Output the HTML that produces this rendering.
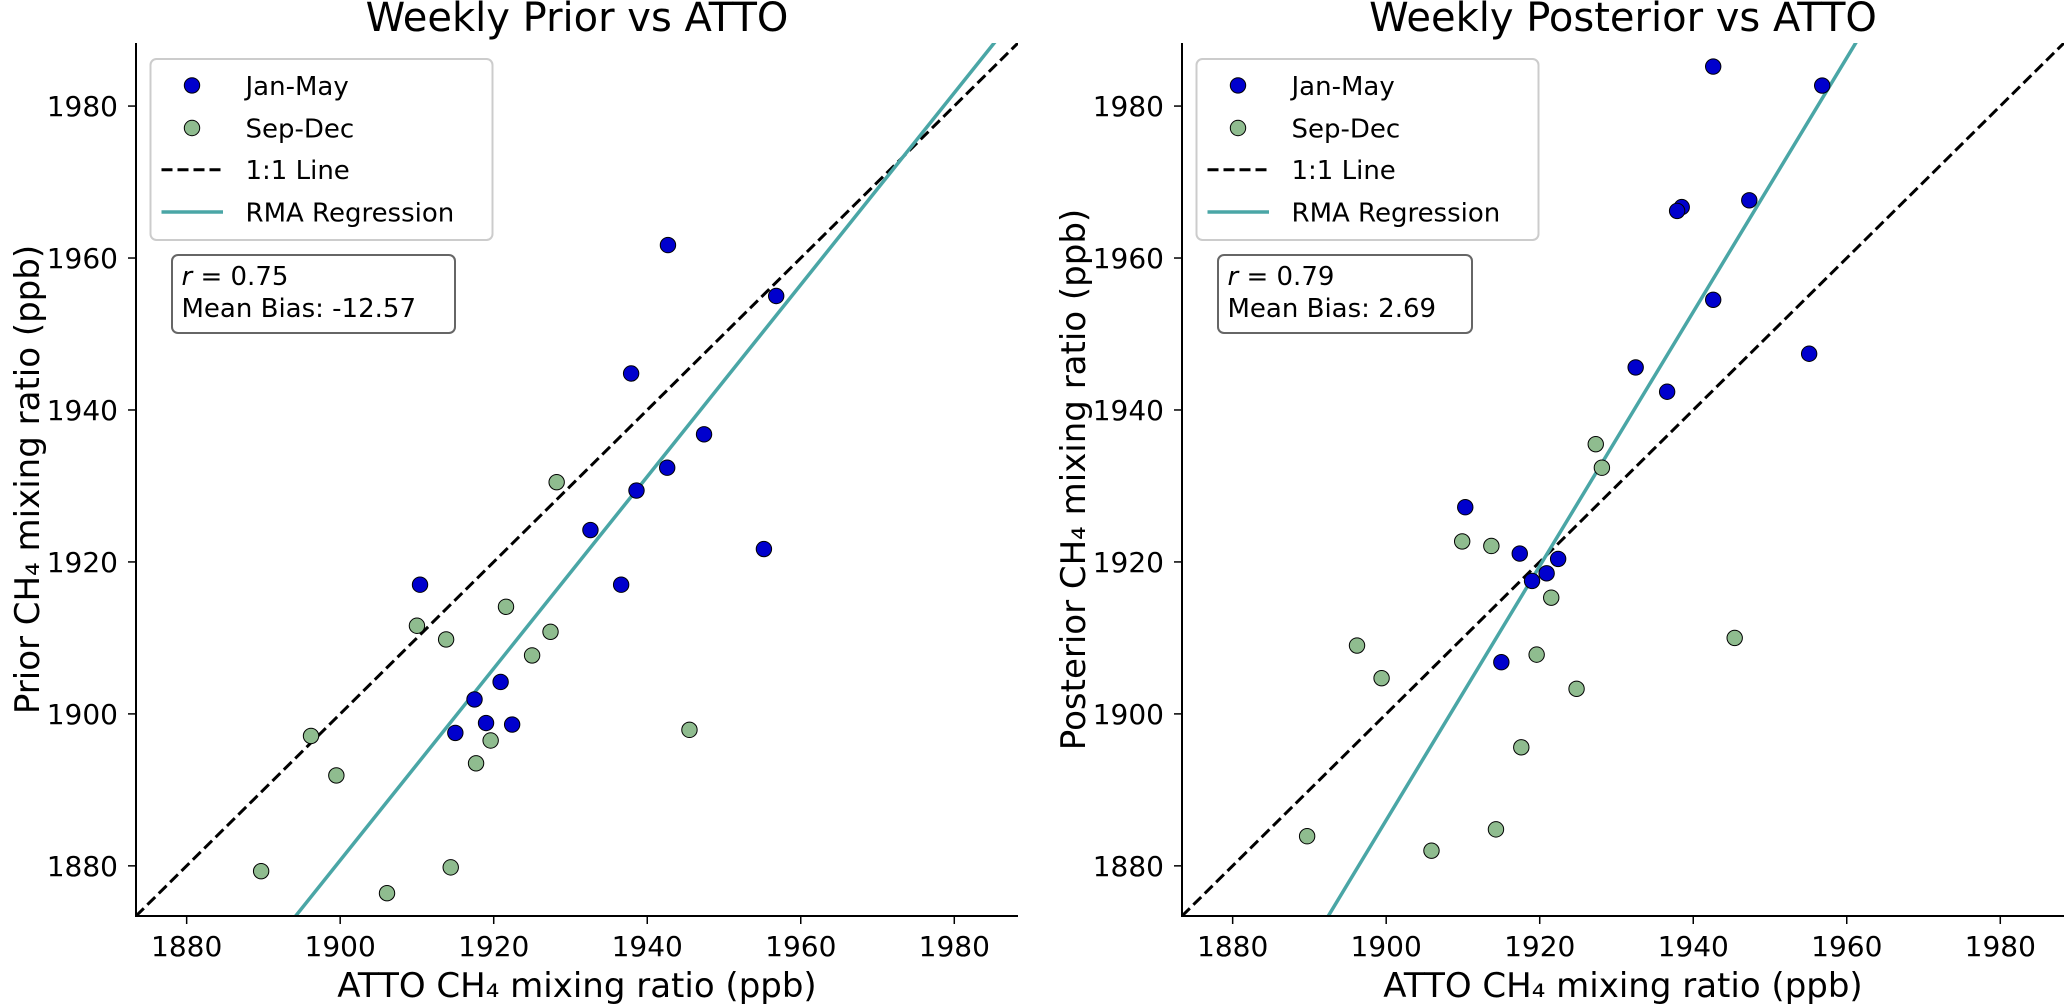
<!DOCTYPE html>
<html><head><meta charset="utf-8">
<style>
html,body{margin:0;padding:0;background:#fff;overflow:hidden;}
svg{display:block;font-family:"DejaVu Sans","Liberation Sans",sans-serif;}
</style></head>
<body>
<svg id="fig" width="2067" height="1005" viewBox="0 0 2067 1005" xmlns="http://www.w3.org/2000/svg">
<defs>
<clipPath id="clipL"><rect x="136" y="43" width="882" height="873"/></clipPath>
<clipPath id="clipR"><rect x="1182" y="43" width="882" height="873"/></clipPath>
</defs>
</svg>
<script>
// ---- data ----
const atto_janmay = [1942.7,1956.8,1937.9,1947.4,1942.6,1938.6,1932.6,1955.2,1936.6,1910.4,1920.9,1917.5,1919.0,1922.4,1915.0];
const prior_janmay = [1961.7,1955.0,1944.8,1936.8,1932.4,1929.4,1924.2,1921.7,1917.0,1917.0,1904.2,1901.9,1898.8,1898.6,1897.5];
const atto_sepdec = [1928.2,1921.6,1910.0,1913.8,1927.4,1925.0,1896.2,1945.5,1919.6,1917.7,1899.5,1889.7,1914.4,1906.1];
const prior_sepdec = [1930.5,1914.1,1911.6,1909.8,1910.8,1907.7,1897.1,1897.9,1896.5,1893.5,1891.9,1879.3,1879.8,1876.4];
const post_atto_janmay = [1942.6,1956.8,1947.3,1938.5,1937.9,1942.6,1955.1,1932.5,1936.6,1910.3,1917.4,1922.4,1920.9,1919.0,1915.0];
const post_janmay = [1985.2,1982.7,1967.6,1966.7,1966.2,1954.5,1947.4,1945.6,1942.4,1927.2,1921.1,1920.4,1918.5,1917.5,1906.8];
const post_atto_sepdec = [1909.9,1913.7,1921.5,1896.2,1919.6,1899.4,1924.8,1917.6,1927.3,1928.1,1945.4,1889.7,1905.9,1914.3];
const post_sepdec = [1922.7,1922.1,1915.3,1909.0,1907.8,1904.7,1903.3,1895.6,1935.5,1932.4,1910.0,1883.9,1882.0,1884.8];
const tickValues = [1880,1900,1920,1940,1960,1980];
const axisLimits = [1873.4,1988.3];
const statsPrior = ["0.75","-12.57"];
const statsPost = ["0.79","2.69"];

const NS="http://www.w3.org/2000/svg";
const svg=document.getElementById('fig');
function mk(tag,attrs,parent){const e=document.createElementNS(NS,tag);for(const k in attrs)e.setAttribute(k,attrs[k]);(parent||svg).appendChild(e);return e;}

function panel(ox, clipId, title, ylabel, xa1, ya1, xa2, ya2, stats, pfx){
  const L=ox, R=ox+882, T=43, B=916;
  const sx=v=>L+(v-axisLimits[0])/(axisLimits[1]-axisLimits[0])*(R-L);
  const sy=v=>B-(v-axisLimits[0])/(axisLimits[1]-axisLimits[0])*(B-T);
  const g=mk('g',{});
  
  
  const t=mk('text',{x:(L+R)/2,y:31,'font-size':40,'text-anchor':'middle',fill:'#000'},g);t.textContent=title;
  
  
  const cg=mk('g',{'clip-path':'url(#'+clipId+')'},g);
  const one=mk('line',{x1:sx(axisLimits[0]),y1:sy(axisLimits[0]),x2:sx(axisLimits[1]),y2:sy(axisLimits[1]),stroke:'#000','stroke-width':3,'stroke-dasharray':'11,5'},cg);
  
  
  const xs=xa1.concat(xa2), ys=ya1.concat(ya2), n=xs.length;
  const mx=xs.reduce((a,b)=>a+b,0)/n, my=ys.reduce((a,b)=>a+b,0)/n;
  let sxx=0,syy=0,sxy=0;for(let i=0;i<n;i++){sxx+=(xs[i]-mx)**2;syy+=(ys[i]-my)**2;sxy+=(xs[i]-mx)*(ys[i]-my);}
  const slope=Math.sign(sxy)*Math.sqrt(syy/sxx), ic=my-slope*mx;
  const xlo=axisLimits[0]-20, xhi=axisLimits[1]+20;
  const rma=mk('line',{x1:sx(xlo),y1:sy(ic+slope*xlo),x2:sx(xhi),y2:sy(ic+slope*xhi),stroke:'#4aa6a6','stroke-width':3.5},cg);
  
  
  xa1.forEach((v,i)=>{const c=mk('circle',{cx:sx(v),cy:sy(ya1[i]),r:7.7,fill:'#0000cd',stroke:'#000','stroke-width':1},g);
    
    });
  xa2.forEach((v,i)=>{const c=mk('circle',{cx:sx(v),cy:sy(ya2[i]),r:7.7,fill:'#8fbc8f',stroke:'#000','stroke-width':1},g);
    
    });
  const sp=mk('path',{d:`M${L},${T}V${B}H${R}`,fill:'none',stroke:'#000','stroke-width':2},g);
  
  
  tickValues.forEach(v=>{
    const X=sx(v);
    mk('line',{x1:X,y1:B,x2:X,y2:B+8,stroke:'#000','stroke-width':1.5},g);
    const xl=mk('text',{x:X,y:956,'font-size':28,'text-anchor':'middle',fill:'#000'},g);xl.textContent=v;
    
    
    const Y=sy(v);
    mk('line',{x1:L-8,y1:Y,x2:L,y2:Y,stroke:'#000','stroke-width':1.5},g);
    const yl=mk('text',{x:L-18,y:Y+10,'font-size':28,'text-anchor':'end',fill:'#000'},g);yl.textContent=v;
    
    
  });
  const xt=mk('text',{x:(L+R)/2,y:997,'font-size':34,'text-anchor':'middle',fill:'#000'},g);xt.textContent='ATTO CH\u2084 mixing ratio (ppb)';
  
  
  const yx=ox-108;
  const yt=mk('text',{x:yx,y:479.5,'font-size':34,'text-anchor':'middle',fill:'#000',transform:`rotate(-90 ${yx} 479.5) translate(0 11)`},g);yt.textContent=ylabel;
  
  
  const lg=mk('g',{},g);
  
  
  const d=ox-136;
  mk('rect',{x:150.5+d,y:59,width:342,height:181,rx:6,fill:'#fff','fill-opacity':0.8,stroke:'#cccccc','stroke-width':2},lg);
  const items=[['Jan-May',85.4],['Sep-Dec',128],['1:1 Line',169.7],['RMA Regression',212]];
  mk('circle',{cx:192+d,cy:85.4,r:7.7,fill:'#0000cd',stroke:'#000','stroke-width':1},lg);
  mk('circle',{cx:192+d,cy:128,r:7.7,fill:'#8fbc8f',stroke:'#000','stroke-width':1},lg);
  mk('line',{x1:161.5+d,y1:169.7,x2:223+d,y2:169.7,stroke:'#000','stroke-width':3,'stroke-dasharray':'11,5'},lg);
  mk('line',{x1:161.5+d,y1:212,x2:223+d,y2:212,stroke:'#4aa6a6','stroke-width':3.5},lg);
  items.forEach(it=>{const e=mk('text',{x:245.5+d,y:it[1]+9.5,'font-size':26,fill:'#000'},lg);e.textContent=it[0];
    
    });
  const sb=mk('g',{},g);
  
  
  const bw = stats[1].length>4 ? 283 : 254;
  mk('rect',{x:172+d,y:255,width:bw,height:78,rx:6,fill:'#fff',stroke:'#666','stroke-width':2},sb);
  const s1=mk('text',{x:181.5+d,y:285,'font-size':26,fill:'#000'},sb);
  const it=mk('tspan',{'font-style':'italic'},s1);it.textContent='r';
  const rest=mk('tspan',{},s1);rest.textContent=' = '+stats[0];
  const s2=mk('text',{x:181.5+d,y:317,'font-size':26,fill:'#000'},sb);s2.textContent='Mean Bias: '+stats[1];
}
panel(136,'clipL','Weekly Prior vs ATTO','Prior CH\u2084 mixing ratio (ppb)',atto_janmay,prior_janmay,atto_sepdec,prior_sepdec,statsPrior,'prior');
panel(1182,'clipR','Weekly Posterior vs ATTO','Posterior CH\u2084 mixing ratio (ppb)',post_atto_janmay,post_janmay,post_atto_sepdec,post_sepdec,statsPost,'posterior');
</script>
</body></html>
